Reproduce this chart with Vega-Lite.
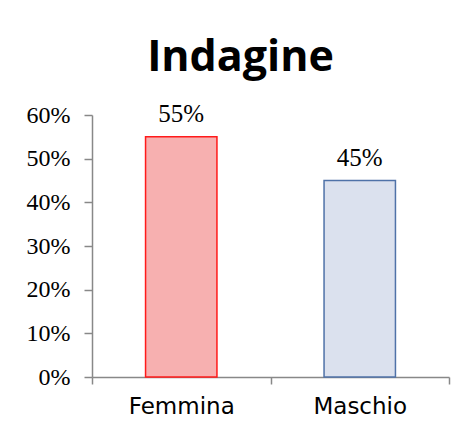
{
  "$schema": "https://vega.github.io/schema/vega-lite/v6.json",
  "autosize": "none",
  "width": 357,
  "height": 262,
  "padding": {"left": 92, "top": 115, "right": 13, "bottom": 58},
  "background": "white",
  "title": {
    "text": "Indagine",
    "font": "Open Sans",
    "fontSize": 43,
    "fontWeight": "bold",
    "color": "#000000",
    "anchor": "middle",
    "baseline": "alphabetic",
    "dx": -30,
    "offset": -12
  },
  "data": {
    "values": [
      {"genere": "Femmina", "quota": 0.55},
      {"genere": "Maschio", "quota": 0.45}
    ]
  },
  "encoding": {
    "x": {
      "field": "genere",
      "type": "nominal",
      "sort": null,
      "title": null,
      "scale": {"paddingInner": 0, "paddingOuter": 0},
      "axis": {
        "labelAngle": 0,
        "labelFont": "DejaVu Sans",
        "labelFontSize": 23,
        "labelColor": "#000000",
        "labelPadding": 11,
        "domainColor": "#888888",
        "domainWidth": 1.5,
        "tickColor": "#888888",
        "tickWidth": 1.5,
        "tickSize": 7,
        "tickBand": "extent"
      }
    },
    "y": {
      "field": "quota",
      "type": "quantitative",
      "title": null,
      "scale": {"domain": [0, 0.6], "nice": false},
      "axis": {
        "values": [0, 0.1, 0.2, 0.3, 0.4, 0.5, 0.6],
        "format": ".0%",
        "grid": false,
        "labelFont": "Liberation Serif",
        "labelFontSize": 24,
        "labelColor": "#000000",
        "labelPadding": 14,
        "domainColor": "#888888",
        "domainWidth": 1.5,
        "tickColor": "#888888",
        "tickWidth": 1.5,
        "tickSize": 8
      }
    }
  },
  "layer": [
    {
      "mark": {"type": "bar", "strokeWidth": 1.5, "width": {"band": 0.4}},
      "encoding": {
        "fill": {
          "field": "genere",
          "type": "nominal",
          "legend": null,
          "scale": {"domain": ["Femmina", "Maschio"], "range": ["#f7b0b0", "#dbe1ee"]}
        },
        "stroke": {
          "field": "genere",
          "type": "nominal",
          "legend": null,
          "scale": {"domain": ["Femmina", "Maschio"], "range": ["#ff1a1a", "#4f72a8"]}
        }
      }
    },
    {
      "mark": {"type": "text", "baseline": "alphabetic", "dy": -15, "font": "Liberation Serif", "fontSize": 25, "color": "#000000"},
      "encoding": {
        "text": {"field": "quota", "type": "quantitative", "format": ".0%"}
      }
    }
  ],
  "config": {"view": {"stroke": null}}
}
